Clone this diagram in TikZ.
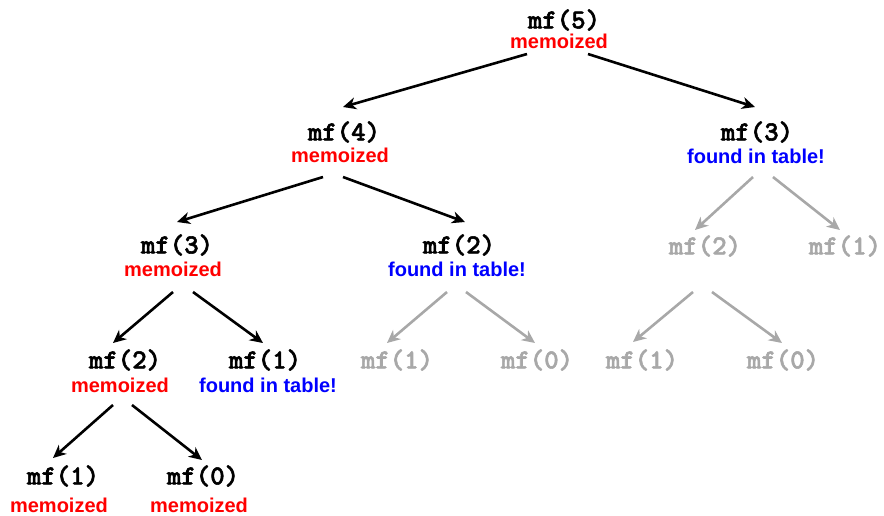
\documentclass[tikz,border=0pt]{standalone}
\usepackage{fontspec}
\setmainfont{Liberation Sans}
\newfontfamily\codefont[FakeBold=2]{lmmonolt10-bold.otf}
\usetikzlibrary{arrows.meta}
\definecolor{memred}{HTML}{FF0000}
\definecolor{tabblue}{HTML}{0000FF}
\definecolor{fadegray}{HTML}{A8A8A8}
\tikzset{
  call/.style={inner sep=0pt, font=\codefont\fontsize{27.5}{30}\selectfont, text=black},
  ghost/.style={call, text=fadegray},
  memo/.style={inner sep=0pt, font=\bfseries\fontsize{20}{24}\selectfont, text=memred},
  found/.style={inner sep=0pt, font=\bfseries\fontsize{20}{24}\selectfont, text=tabblue},
  arr/.style={line width=2.6pt, draw=black, -{Stealth[length=13pt,width=12pt,inset=4pt]}},
  garr/.style={arr, draw=fadegray},
}
\begin{document}
\begin{tikzpicture}[x=1pt,y=-1pt]
\useasboundingbox (0,0) rectangle (884,515);
% nodes
\node[call]  (A)  at (564,20)  {mf(5)};
\node[memo]  (Al) at (559,41)  {memoized};
\node[call]  (B)  at (344,132) {mf(4)};
\node[memo]  (Bl) at (340,155) {memoized};
\node[call]  (C)  at (757,132) {mf(3)};
\node[found] (Cl) at (756,156) {found in table!};
\node[call]  (D)  at (177,245) {mf(3)};
\node[memo]  (Dl) at (173,269) {memoized};
\node[call]  (E)  at (459,245) {mf(2)};
\node[found] (El) at (457,269) {found in table!};
\node[ghost] (F)  at (705,246) {mf(2)};
\node[ghost] (G)  at (845,246) {mf(1)};
\node[call]  (H)  at (125,360) {mf(2)};
\node[memo]  (Hl) at (120,385) {memoized};
\node[call]  (I)  at (265,360) {mf(1)};
\node[found] (Il) at (268,385) {found in table!};
\node[ghost] (J)  at (397,360) {mf(1)};
\node[ghost] (K)  at (537,360) {mf(0)};
\node[ghost] (L)  at (642,360) {mf(1)};
\node[ghost] (M)  at (783,360) {mf(0)};
\node[call]  (N)  at (63,476)  {mf(1)};
\node[memo]  (Nl) at (59,505)  {memoized};
\node[call]  (O)  at (203,476) {mf(0)};
\node[memo]  (Ol) at (199,505) {memoized};
% connectors
\draw[arr]  ([shift={(-32,13)}]Al.center) -- ([shift={(-1,-25)}]B.center);
\draw[arr]  ([shift={(29,13)}]Al.center)  -- ([shift={(-2,-25)}]C.center);
\draw[arr]  ([shift={(-17,22)}]Bl.center) -- ([shift={(0,-23)}]D.center);
\draw[arr]  ([shift={(3,22)}]Bl.center)   -- ([shift={(6,-23)}]E.center);
\draw[garr] ([shift={(-3,21)}]Cl.center)  -- ([shift={(-10,-16)}]F.center);
\draw[garr] ([shift={(17,21)}]Cl.center)  -- ([shift={(-5,-16)}]G.center);
\draw[arr]  ([shift={(0,23)}]Dl.center)   -- ([shift={(-12,-17)}]H.center);
\draw[arr]  ([shift={(20,23)}]Dl.center)  -- ([shift={(-2,-17)}]I.center);
\draw[garr] ([shift={(-10,23)}]El.center) -- ([shift={(-10,-17)}]J.center);
\draw[garr] ([shift={(9,23)}]El.center)   -- ([shift={(-2,-17)}]K.center);
\draw[garr] ([shift={(-12,46)}]F.center)  -- ([shift={(-9,-18)}]L.center);
\draw[garr] ([shift={(7,46)}]F.center)    -- ([shift={(-1,-17)}]M.center);
\draw[arr]  ([shift={(-7,20)}]Hl.center)  -- ([shift={(-10,-18)}]N.center);
\draw[arr]  ([shift={(12,20)}]Hl.center)  -- ([shift={(-1,-16)}]O.center);
\end{tikzpicture}
\end{document}
